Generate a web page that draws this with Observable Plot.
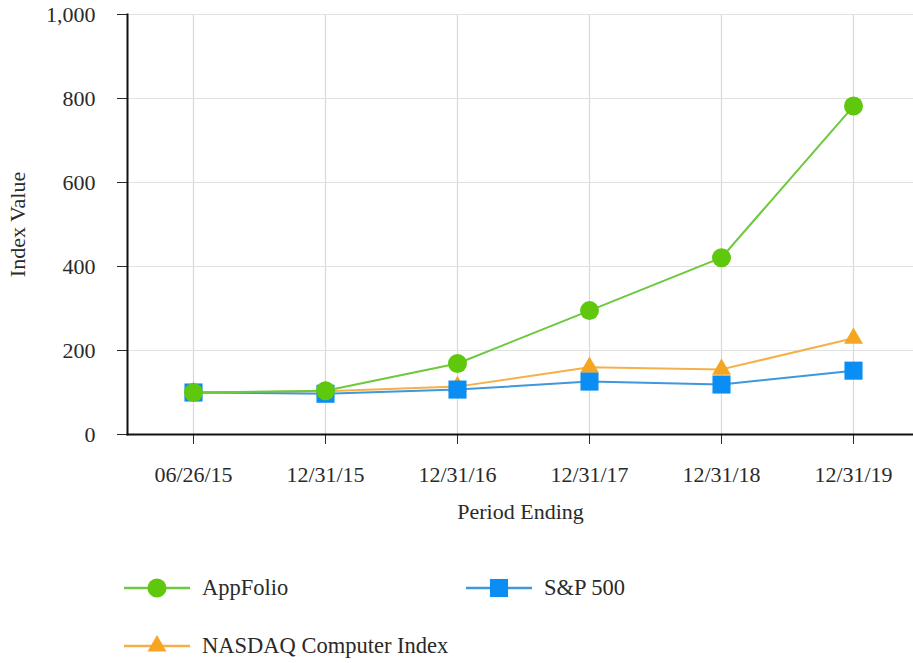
<!DOCTYPE html>
<html>
<head>
<meta charset="utf-8">
<script src="https://cdn.jsdelivr.net/npm/d3@7"></script>
<script src="https://cdn.jsdelivr.net/npm/@observablehq/plot@0.6"></script>
<style>
  html, body { margin: 0; padding: 0; background: #fff; }
  #wrap { position: relative; width: 913px; height: 663px; font-family: "Liberation Serif", serif; color: #2a2a2a; }
  .item { position: absolute; display: flex; align-items: center; font-size: 22.5px; height: 30px; white-space: nowrap; }
  .item svg { margin-right: 12px; }
</style>
</head>
<body>
<div id="wrap"></div>
<script>
const periods = ["06/26/15", "12/31/15", "12/31/16", "12/31/17", "12/31/18", "12/31/19"];
const seriesNames = ["NASDAQ Computer Index", "S&P 500", "AppFolio"];
const nasdaq = [100, 103, 114, 160, 155, 229];
const sp500 = [100, 97, 107, 126, 119, 152];
const appfolio = [100, 104, 169, 295, 421, 782];
const yTicks = [0, 200, 400, 600, 800, 1000];

const lineColors = {"AppFolio": "#6cc93c", "S&P 500": "#3f98dc", "NASDAQ Computer Index": "#f6b04a"};
const markColors = {"AppFolio": "#5fc70c", "S&P 500": "#0b8ef3", "NASDAQ Computer Index": "#f5a520"};
const symbols = {"AppFolio": "circle", "S&P 500": "square", "NASDAQ Computer Index": "triangle"};
const radii = {"AppFolio": 9.5, "S&P 500": 10.2, "NASDAQ Computer Index": 7};

const valuesBySeries = {"NASDAQ Computer Index": nasdaq, "S&P 500": sp500, "AppFolio": appfolio};
const rows = seriesNames.flatMap(s => periods.map((p, i) => ({series: s, period: p, value: valuesBySeries[s][i]})));

const marks = [
  Plot.gridX(periods, {stroke: "#d9d9d9", strokeOpacity: 1, strokeWidth: 1.2}),
  Plot.gridY(yTicks.slice(1), {stroke: "#e2e2e2", strokeOpacity: 1, strokeWidth: 1.2}),
  Plot.axisY({ticks: yTicks, tickSize: 10, tickPadding: 22, tickFormat: d3.format(","), label: "Index Value", labelAnchor: "center", labelOffset: 118, labelArrow: "none", fontSize: 22}),
  Plot.axisX({tickSize: 10, tickPadding: 22, label: "Period Ending", labelAnchor: "center", labelOffset: 84, labelArrow: "none", fontSize: 22}),
  Plot.frame({anchor: "left", stroke: "#111", strokeWidth: 2}),
  Plot.frame({anchor: "bottom", stroke: "#111", strokeWidth: 2})
];
for (const s of seriesNames) {
  const d = rows.filter(r => r.series === s);
  marks.push(Plot.line(d, {x: "period", y: "value", stroke: lineColors[s], strokeWidth: 2}));
  marks.push(Plot.dot(d, {x: "period", y: "value", symbol: symbols[s], r: radii[s], fill: markColors[s], stroke: "none"}));
}

const chart = Plot.plot({
  width: 913,
  height: 540,
  marginLeft: 127,
  marginRight: 0,
  marginTop: 14,
  marginBottom: 106,
  style: {fontFamily: "Liberation Serif", fontSize: "22px", color: "#2a2a2a", background: "#fff"},
  x: {type: "point", domain: periods, range: [193, 853], padding: 0},
  y: {domain: [0, 1000]},
  marks
});
const wrap = document.getElementById("wrap");
wrap.appendChild(chart);

function swatch(s) {
  const sym = d3.symbol().type({circle: d3.symbolCircle, square: d3.symbolSquare, triangle: d3.symbolTriangle}[symbols[s]]).size(Math.PI * radii[s] * radii[s]);
  return `<svg width="66" height="30"><line x1="0" x2="66" y1="15" y2="15" stroke="${lineColors[s]}" stroke-width="2.5"/><path transform="translate(33,15)" d="${sym()}" fill="${markColors[s]}"/></svg>`;
}
const legendPos = [["AppFolio", 124, 573], ["S&P 500", 466, 573], ["NASDAQ Computer Index", 124, 631]];
for (const [s, x, y] of legendPos) {
  const div = document.createElement("div");
  div.className = "item";
  div.style.left = x + "px";
  div.style.top = y + "px";
  div.innerHTML = swatch(s) + `<span>${s}</span>`;
  wrap.appendChild(div);
}
</script>
</body>
</html>
